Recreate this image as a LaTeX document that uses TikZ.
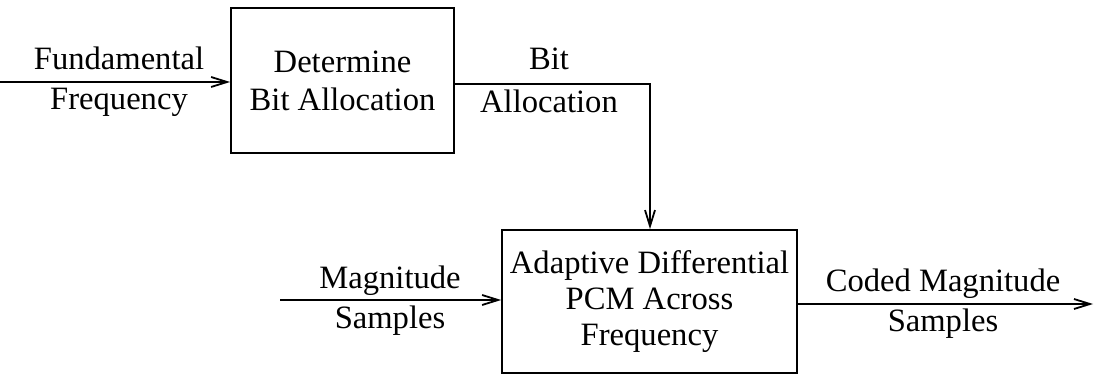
\documentclass[tikz,border=0pt]{standalone}
\usepackage{fontspec}
\setmainfont{Liberation Serif}
\usetikzlibrary{arrows.meta, positioning}

\begin{document}
\begin{tikzpicture}[x=0.5pt, y=-0.5pt,
    blk/.style={draw, line width=0.9pt, align=center, inner sep=0pt,
                font=\fontsize{16.3}{19}\selectfont},
    lbl/.style={align=center, inner sep=0pt, font=\fontsize{16.3}{20}\selectfont},
    flow/.style={line width=0.9pt, -{Straight Barb[length=8pt, width=5pt]}}]
  \useasboundingbox (0,0) rectangle (1101,378);
  % blocks
  \node[blk, minimum width=111.5pt, minimum height=72.5pt] (alloc) at (342.5,80.5)
    {Determine\\Bit Allocation};
  \node[blk, minimum width=147.5pt, minimum height=71.5pt,
        font=\fontsize{16.3}{18}\selectfont] (adpcm) at (649.5,301.5)
    {Adaptive Differential\\PCM Across\\Frequency};
  % connectors
  \coordinate (fin) at (0,82);
  \coordinate (bend) at (650,84);
  \coordinate (min) at (280,300);
  \coordinate (cout) at (1093,304);
  \draw[flow] (fin) -- (fin -| alloc.west);
  \draw[flow] (alloc.east |- bend) -- (bend) -- (bend |- adpcm.north);
  \draw[flow] (min) -- (min -| adpcm.west);
  \draw[flow] (adpcm.east |- cout) -- (cout);
  % labels
  \node[lbl] (flab) at (119,82) {Fundamental\\Frequency};
  \node[lbl, font=\fontsize{16.3}{21.5}\selectfont] (blab) at (549,80) {Bit\\Allocation};
  \node[lbl] (mlab) at (390,301) {Magnitude\\Samples};
  \node[lbl] (clab) at (943,304) {Coded Magnitude\\Samples};
\end{tikzpicture}
\end{document}
